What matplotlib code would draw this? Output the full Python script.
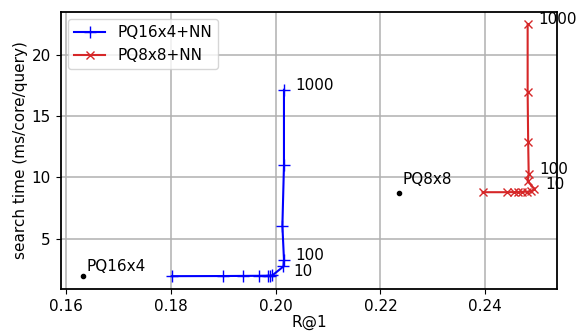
import matplotlib
matplotlib.use('Agg')
import matplotlib.pyplot as plt

plt.rcParams['font.size'] = 11

# PQ16x4+NN operating points (R@1, search time)
pq16_r1 = [0.1802, 0.1899, 0.1938, 0.1969, 0.1985, 0.1990, 0.1994, 0.2015, 0.2016, 0.2013, 0.2016, 0.2016]
pq16_t = [1.93, 1.94, 1.95, 1.96, 1.97, 1.98, 2.00, 2.72, 3.28, 6.05, 10.96, 17.14]
pq16_labels = {7: '10', 8: '100', 11: '1000'}

# PQ8x8+NN operating points
pq8_r1 = [0.2395, 0.2442, 0.2455, 0.2462, 0.2470, 0.2480, 0.2488, 0.2494, 0.2481, 0.2483, 0.2482, 0.2481, 0.2481]
pq8_t = [8.78, 8.78, 8.79, 8.80, 8.81, 8.82, 8.84, 9.05, 9.67, 10.28, 12.86, 16.94, 22.48]
pq8_labels = {7: '10', 9: '100', 12: '1000'}

# baselines without NN
base_names = ['PQ16x4', 'PQ8x8']
base_r1 = [0.1633, 0.2236]
base_t = [1.91, 8.75]

fig = plt.figure(figsize=(5.78, 3.32), dpi=100)
ax = fig.add_axes([0.105, 0.1295, 0.8587, 0.8353])

ax.plot(pq16_r1, pq16_t, color='b', marker='+', markersize=9, label='PQ16x4+NN')
ax.plot(pq8_r1, pq8_t, color='tab:red', marker='x', markersize=6, label='PQ8x8+NN')
ax.plot(base_r1, base_t, 'k.', markersize=6)

for i, s in pq16_labels.items():
    off = (7, -7) if s == '10' else (8, 0)
    ax.annotate(s, (pq16_r1[i], pq16_t[i]), xytext=off, textcoords='offset points')
for i, s in pq8_labels.items():
    ax.annotate(s, (pq8_r1[i], pq8_t[i]), xytext=(8, 0), textcoords='offset points')
for name, x, y, dy in zip(base_names, base_r1, base_t, [4, 6]):
    ax.annotate(name, (x, y), xytext=(2, dy), textcoords='offset points')

ax.grid(True, color='#b0b0b0', linewidth=1.1)
ax.set_yticks([5, 10, 15, 20])
ax.set_xticks([0.16, 0.18, 0.20, 0.22, 0.24])
ax.set_xlabel('R@1', labelpad=1)
ax.set_ylabel('search time (ms/core/query)', labelpad=3)
for sp in ax.spines.values():
    sp.set_linewidth(1.3)
ax.legend(loc='upper left')

fig.savefig('out.png', dpi=100)
